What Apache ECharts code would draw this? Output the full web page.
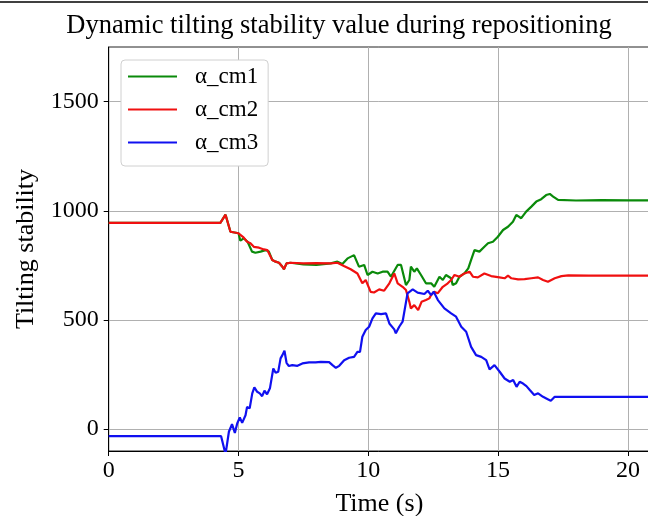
<!DOCTYPE html>
<html><head><meta charset="utf-8">
<script src="https://cdn.jsdelivr.net/npm/echarts@6/dist/echarts.min.js"></script>
<style>html,body{margin:0;padding:0;background:#fff}#c{width:648px;height:516px}</style>
</head><body><div id="c"></div>
<script>
const titleText = 'Dynamic tilting stability value during repositioning';
const seriesNames = ['α_cm1', 'α_cm2', 'α_cm3'];
const xTicks = [0, 5, 10, 15, 20];
const yTicks = [0, 500, 1000, 1500];

const cm1T = [0,4.3,4.5,4.69,5.0,5.07,5.2,5.35,5.52,5.65,5.85,6.04,6.17,6.3,6.43,6.56,6.69,6.75,6.85,7.0,7.5,8.0,8.55,8.81,9.0,9.2,9.45,9.64,9.84,9.97,10.16,10.36,10.55,10.74,10.87,11.13,11.26,11.45,11.58,11.64,11.77,11.87,12.03,12.22,12.42,12.54,12.74,12.87,12.99,13.19,13.25,13.38,13.51,13.7,13.85,13.96,14.09,14.28,14.47,14.61,14.8,14.99,15.19,15.38,15.57,15.7,15.89,16.08,16.28,16.47,16.66,16.85,16.99,17.12,17.31,18,19,20,20.85];
const cm1V = [945,945,982,904,897,863,874,858,813,808,813,820,813,775,767,762,744,732,759,762,755,752,759,767,756,782,797,744,752,706,721,713,721,721,698,752,752,660,683,744,721,736,706,668,668,652,698,683,706,691,660,668,698,713,736,775,820,813,835,851,858,881,912,927,950,981,966,996,1019,1042,1053,1072,1077,1065,1050,1047,1049,1048,1048];

const cm2T = [0,4.3,4.5,4.69,5.0,5.17,5.33,5.46,5.59,5.79,5.98,6.11,6.17,6.3,6.43,6.56,6.69,6.75,6.85,7.0,7.5,8.0,8.55,8.81,9.06,9.32,9.58,9.77,9.9,10.09,10.22,10.42,10.61,10.81,11.0,11.13,11.32,11.45,11.58,11.64,11.77,11.92,12.05,12.22,12.35,12.42,12.54,12.67,12.87,13.06,13.19,13.32,13.51,13.7,13.9,14.03,14.22,14.47,14.73,15.05,15.25,15.38,15.51,15.77,16.02,16.28,16.54,16.73,16.92,17.18,17.44,17.7,18.5,20.85];
const cm2V = [945,945,982,904,897,881,858,851,835,831,823,820,813,775,767,762,744,732,759,762,759,760,759,762,747,732,713,668,683,629,626,640,634,668,713,668,652,637,583,553,568,545,583,591,599,614,629,622,652,668,683,706,698,713,721,698,695,713,701,695,691,703,691,686,687,691,695,683,675,691,701,704,703,703];

const cm3T = [0,4.33,4.5,4.63,4.75,4.86,4.95,5.05,5.14,5.27,5.33,5.43,5.53,5.61,5.72,5.82,5.91,6.0,6.1,6.21,6.34,6.43,6.53,6.62,6.69,6.77,6.85,6.94,7.07,7.27,7.46,7.72,7.97,8.17,8.49,8.62,8.75,8.88,9.07,9.26,9.45,9.58,9.68,9.77,9.9,10.03,10.16,10.29,10.49,10.68,10.81,11.0,11.06,11.19,11.32,11.51,11.71,11.9,12.16,12.29,12.42,12.52,12.68,12.93,13.19,13.38,13.58,13.77,13.96,14.15,14.35,14.54,14.67,14.86,15.06,15.25,15.45,15.58,15.71,15.83,15.96,16.09,16.22,16.39,16.54,16.73,16.93,17.03,17.18,20.85];
const cm3V = [-32,-32,-115,-12,23,-17,26,54,29,64,102,95,164,191,171,164,151,176,160,187,278,258,263,324,339,359,304,289,293,290,301,306,306,308,307,293,281,290,316,327,331,354,354,423,454,469,507,530,527,530,484,457,439,469,492,622,640,625,619,634,614,629,591,553,530,515,469,446,377,339,331,316,274,293,263,232,217,225,194,217,209,197,179,156,164,148,136,130,148,148];

const colors = ['#0a8a0a', '#f01010', '#1010f0'];
const serif = 'Liberation Serif, Times New Roman, serif';

function pairs(t, v) { return t.map((x, i) => [x, v[i]]); }
const allData = [pairs(cm1T, cm1V), pairs(cm2T, cm2V), pairs(cm3T, cm3V)];

const chart = echarts.init(document.getElementById('c'), null, {renderer: 'canvas'});
chart.setOption({
  animation: false,
  backgroundColor: '#fff',
  title: {
    text: titleText, left: 334, top: 8, textAlign: 'center',
    textStyle: {fontFamily: serif, fontSize: 26.5, fontWeight: 'normal', color: '#000'}
  },
  graphic: [{type: 'line', shape: {x1: 0, y1: 2, x2: 648, y2: 2}, style: {stroke: '#000', lineWidth: 1.5}}],
  grid: {left: 108.7, right: -2, top: 47, bottom: 65, show: true, borderColor: '#222', borderWidth: 1, containLabel: false, outerBoundsMode: 'none'},
  legend: {
    orient: 'vertical', left: 121, top: 60,
    data: seriesNames,
    icon: 'rect',
    itemWidth: 49, itemHeight: 2, itemGap: 10,
    padding: [5, 10, 12, 7],
    backgroundColor: '#fff', borderColor: '#d0d0d0', borderWidth: 1, borderRadius: 4,
    textStyle: {fontFamily: serif, fontSize: 23, color: '#000', lineHeight: 23, padding: [0, 0, 0, 13]}
  },
  xAxis: {
    type: 'value', min: 0, max: 20.85, interval: 5,
    name: 'Time (s)', nameLocation: 'middle', nameGap: 40,
    nameTextStyle: {fontFamily: serif, fontSize: 26, color: '#000'},
    axisLine: {show: true, onZero: false, lineStyle: {color: '#000', width: 1}},
    axisTick: {show: true, length: 5, lineStyle: {color: '#000'}, customValues: xTicks},
    axisLabel: {fontFamily: serif, fontSize: 24, color: '#000', margin: 8, customValues: xTicks, formatter: v => String(v)},
    splitLine: {show: true, lineStyle: {color: '#b0b0b0', width: 1}}
  },
  yAxis: {
    type: 'value', min: -100, max: 1750,
    name: 'Tilting stability', nameLocation: 'middle', nameGap: 70, nameRotate: 90,
    nameTextStyle: {fontFamily: serif, fontSize: 26, color: '#000'},
    axisLine: {show: true, onZero: false, lineStyle: {color: '#000', width: 1}},
    axisTick: {show: true, length: 5, lineStyle: {color: '#000'}, customValues: yTicks},
    axisLabel: {fontFamily: serif, fontSize: 24, color: '#000', margin: 10, customValues: yTicks, formatter: v => String(v)},
    splitLine: {show: true, lineStyle: {color: '#b0b0b0', width: 1}}
  },
  series: seriesNames.map((n, i) => ({
    name: n, type: 'line', data: allData[i], symbol: 'none', showSymbol: false,
    lineStyle: {color: colors[i], width: 2.2}, itemStyle: {color: colors[i]},
    clip: true
  }))
});
</script></body></html>
